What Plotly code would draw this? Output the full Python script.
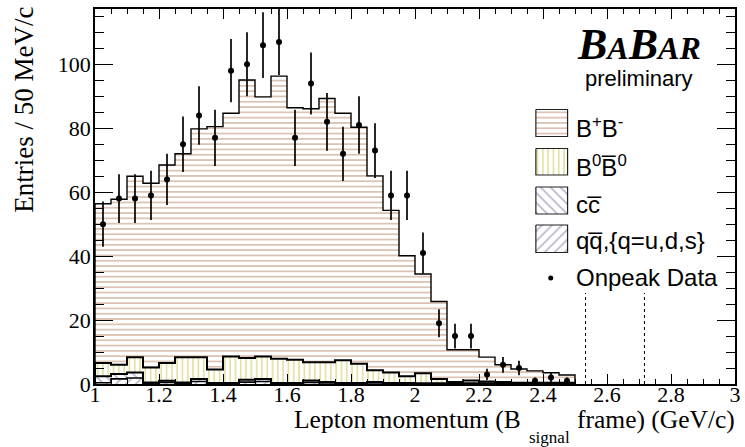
import numpy as np
import plotly.graph_objects as go

# ---- binning: 30 bins of 50 MeV/c from 1.0 to 2.5 GeV/c ----
bin_low = 1.0
bin_width = 0.05
n_bins = 30

# ---- Monte Carlo components (entries per bin), bottom of the stack first ----
qq_vals = [0.4, 1.6, 1.9, 0.2, 0.5, 0.2, 0.8, 0.1, 0.1, 0.6,
           0.8, 0.1, 0.1, 0.5, 0.3, 0.1, 0.1, 0.3, 0.1, 0.1,
           0.1, 0.1, 0.1, 0.1, 0.1, 0.1, 0.1, 0.1, 0.1, 0.1]
cc_vals = [2.0, 1.5, 1.7, 0.3, 0.5, 0.3, 0.8, 0.2, 0.2, 0.7,
           0.8, 0.2, 0.2, 0.6, 0.3, 0.2, 0.2, 0.3, 0.2, 0.2,
           0.1, 0.1, 0.1, 0.1, 0.1, 0.1, 0.1, 0.1, 0.1, 0.1]
b0b0_vals = [4.2, 2.9, 4.8, 4.7, 5.6, 7.9, 6.8, 4.2, 8.3, 6.8,
             7.0, 7.6, 7.3, 5.7, 6.2, 7.1, 6.0, 3.7, 3.3, 2.1,
             3.2, 1.4, 0.4, 0.9, 0.6, 0.4, 0.2, 0.2, 0.2, 0.2]
bpbm_vals = [49.8, 51.8, 56.6, 57.6, 61.9, 63.6, 71.4, 76.0, 76.1, 87.0,
             81.2, 88.4, 78.8, 79.3, 82.5, 77.3, 74.0, 60.8, 50.7, 37.7,
             31.0, 24.2, 10.1, 9.6, 7.6, 5.4, 4.3, 3.7, 3.1, 2.4]

# ---- on-peak data counts ----
onpeak_counts = [50, 58, 58, 59, 64, 75, 84, 77, 98, 100,
                 106, 107, 77, 94, 82, 72, 81, 73, 59, 59,
                 41, 19, 15, 15, 3, 6, 5, 1, 2, 1]

# ---- dotted markers of the high-momentum window ----
window_edges = [2.533, 2.717]
window_height = 28.5

x_ticks = [1, 1.2, 1.4, 1.6, 1.8, 2, 2.2, 2.4, 2.6, 2.8, 3]
y_ticks = [0, 20, 40, 60, 80, 100]

# ---- styles ----
SERIF = "Liberation Serif"
SANS = "Liberation Sans"
col_bpbm = "#b27a55"
col_b0 = "#c9bf3c"
col_cont = "#5c5c92"

# plot-area geometry in pixels (used for placing decorations)
PL, PR, PT, PB = 95, 741, 9, 384


def px(xpix):
    return (xpix - PL) / (PR - PL)


def py(ypix):
    return (PB - ypix) / (PB - PT)


edges = bin_low + bin_width * np.arange(n_bins + 1)
centers = bin_low + bin_width * (np.arange(n_bins) + 0.5)

components = [
    (qq_vals, "/", col_cont, 7.0, 0.22),
    (cc_vals, "\\", col_cont, 7.0, 0.22),
    (b0b0_vals, "|", col_b0, 5.3, 0.3),
    (bpbm_vals, "-", col_bpbm, 5.3, 0.3),
]

fig = go.Figure()

for vals, shape, col, size, sol in components:
    fig.add_trace(go.Bar(
        x=centers, y=vals, width=bin_width,
        marker=dict(color="white", line=dict(width=0),
                    pattern=dict(shape=shape, fgcolor=col, bgcolor="white",
                                 size=size, solidity=sol)),
        showlegend=False, hoverinfo="skip"))

# histogram outlines of the cumulative stack
cum = np.cumsum(np.array([c[0] for c in components]), axis=0)
outline_widths = [1.6, 2.0, 2.0, 1.4]
for level, lw in zip(cum, outline_widths):
    xs = np.concatenate([[edges[0]], edges[:-1], [edges[-1]]])
    ys = np.concatenate([[0.0], level, [0.0]])
    fig.add_trace(go.Scatter(x=xs, y=ys, mode="lines",
                             line=dict(color="black", width=lw, shape="hv"),
                             showlegend=False, hoverinfo="skip"))

# data points with Poisson errors
counts = np.array(onpeak_counts, dtype=float)
fig.add_trace(go.Scatter(
    x=centers, y=counts, mode="markers",
    marker=dict(size=6, color="black"),
    error_y=dict(type="data", array=np.sqrt(counts), thickness=1.7,
                 width=0, color="black"),
    showlegend=False, hoverinfo="skip"))

for xe in window_edges:
    fig.add_shape(type="line", xref="x", yref="y", x0=xe, x1=xe,
                  y0=0, y1=window_height,
                  line=dict(color="black", width=1, dash="dot"), layer="above")

# ---- legend drawn on a pixel-scaled overlay axis ----
legend_rows = [
    ("B<sup>+</sup>B<sup>-</sup>", "-", col_bpbm, 5.3, 0.3, 109.5, 136.5, 127),
    ("B<sup>0</sup>B\u0305<sup>0</sup>", "|", col_b0, 5.3, 0.3, 148.5, 175.0, 166),
    ("cc\u0305", "\\", col_cont, 7.0, 0.22, 187.0, 214.0, 204),
    ("qq\u0305,{q=u,d,s}", "/", col_cont, 7.0, 0.22, 225.0, 252.5, 240),
]
box_x0, box_x1, text_x = 540, 572, 578
annotations = []
for label, shape, col, size, sol, y0, y1, ty in legend_rows:
    fig.add_trace(go.Scatter(
        x=[box_x0, box_x1, box_x1, box_x0, box_x0], y=[y0, y0, y1, y1, y0],
        xaxis="x2", yaxis="y2", mode="lines", fill="toself",
        fillcolor="white",
        fillpattern=dict(shape=shape, fgcolor=col, bgcolor="white",
                         size=size, solidity=sol),
        line=dict(color="#222222", width=1.2),
        showlegend=False, hoverinfo="skip"))
    annotations.append(dict(xref="paper", yref="paper", x=px(text_x), y=py(ty),
                            text=label, showarrow=False,
                            xanchor="left", yanchor="middle",
                            font=dict(family=SANS, size=24, color="black")))

fig.add_trace(go.Scatter(x=[555], y=[278], xaxis="x2", yaxis="y2",
                         mode="markers", marker=dict(size=5, color="black"),
                         showlegend=False, hoverinfo="skip"))
annotations.append(dict(xref="paper", yref="paper", x=px(text_x), y=py(277),
                        text="Onpeak Data", showarrow=False,
                        xanchor="left", yanchor="middle",
                        font=dict(family=SANS, size=24, color="black")))

# experiment logo
annotations.append(dict(
    xref="paper", yref="paper", x=px(709), y=py(44), showarrow=False,
    xanchor="right", yanchor="middle",
    text="<b><i>B<span style='font-size:32px'>A</span>B<span style='font-size:32px'>AR</span></i></b>",
    font=dict(family=SERIF, size=44, color="black")))
annotations.append(dict(xref="paper", yref="paper", x=px(701), y=py(79),
                        text="preliminary", showarrow=False,
                        xanchor="right", yanchor="middle",
                        font=dict(family=SANS, size=22, color="black")))

# axis titles
annotations.append(dict(xref="paper", yref="paper", x=px(527), y=py(419),
                        text="Lepton momentum (B", showarrow=False,
                        xanchor="right", yanchor="middle",
                        font=dict(family=SERIF, size=25.5, color="black")))
annotations.append(dict(xref="paper", yref="paper", x=px(531), y=py(437),
                        text="signal", showarrow=False,
                        xanchor="left", yanchor="middle",
                        font=dict(family=SERIF, size=17, color="black")))
annotations.append(dict(xref="paper", yref="paper", x=px(743), y=py(419),
                        text="frame) (GeV/c)", showarrow=False,
                        xanchor="right", yanchor="middle",
                        font=dict(family=SERIF, size=25.5, color="black")))
annotations.append(dict(xref="paper", yref="paper", x=px(23), y=py(5),
                        text="Entries / 50 MeV/c", textangle=-90,
                        showarrow=False, xanchor="center", yanchor="top",
                        font=dict(family=SERIF, size=27, color="black")))

axis_common = dict(showline=True, linecolor="black", linewidth=1.6,
                   mirror="allticks", ticks="inside", tickcolor="black",
                   tickwidth=1.3, showgrid=False, zeroline=False,
                   tickfont=dict(family=SERIF, size=22, color="black"))

fig.update_layout(
    width=745, height=447,
    margin=dict(l=PL, r=745 - PR, t=PT, b=447 - PB),
    paper_bgcolor="white", plot_bgcolor="white",
    barmode="stack", bargap=0, showlegend=False,
    xaxis=dict(range=[1, 3], tickvals=x_ticks, ticklen=10,
               ticklabelstandoff=-10,
               minor=dict(dtick=0.05, tick0=1, ticklen=5, ticks="inside",
                          tickcolor="black", tickwidth=1.3),
               **axis_common),
    yaxis=dict(range=[0, 117.3], tickvals=y_ticks, ticklen=18,
               ticklabelstandoff=-2,
               minor=dict(dtick=5, tick0=0, ticklen=9, ticks="inside",
                          tickcolor="black", tickwidth=1.3),
               **axis_common),
    xaxis2=dict(range=[PL, PR], overlaying="x", visible=False,
                showgrid=False, zeroline=False),
    yaxis2=dict(range=[PB, PT], overlaying="y", visible=False,
                showgrid=False, zeroline=False),
    annotations=annotations,
)

fig.write_html("out.html")
